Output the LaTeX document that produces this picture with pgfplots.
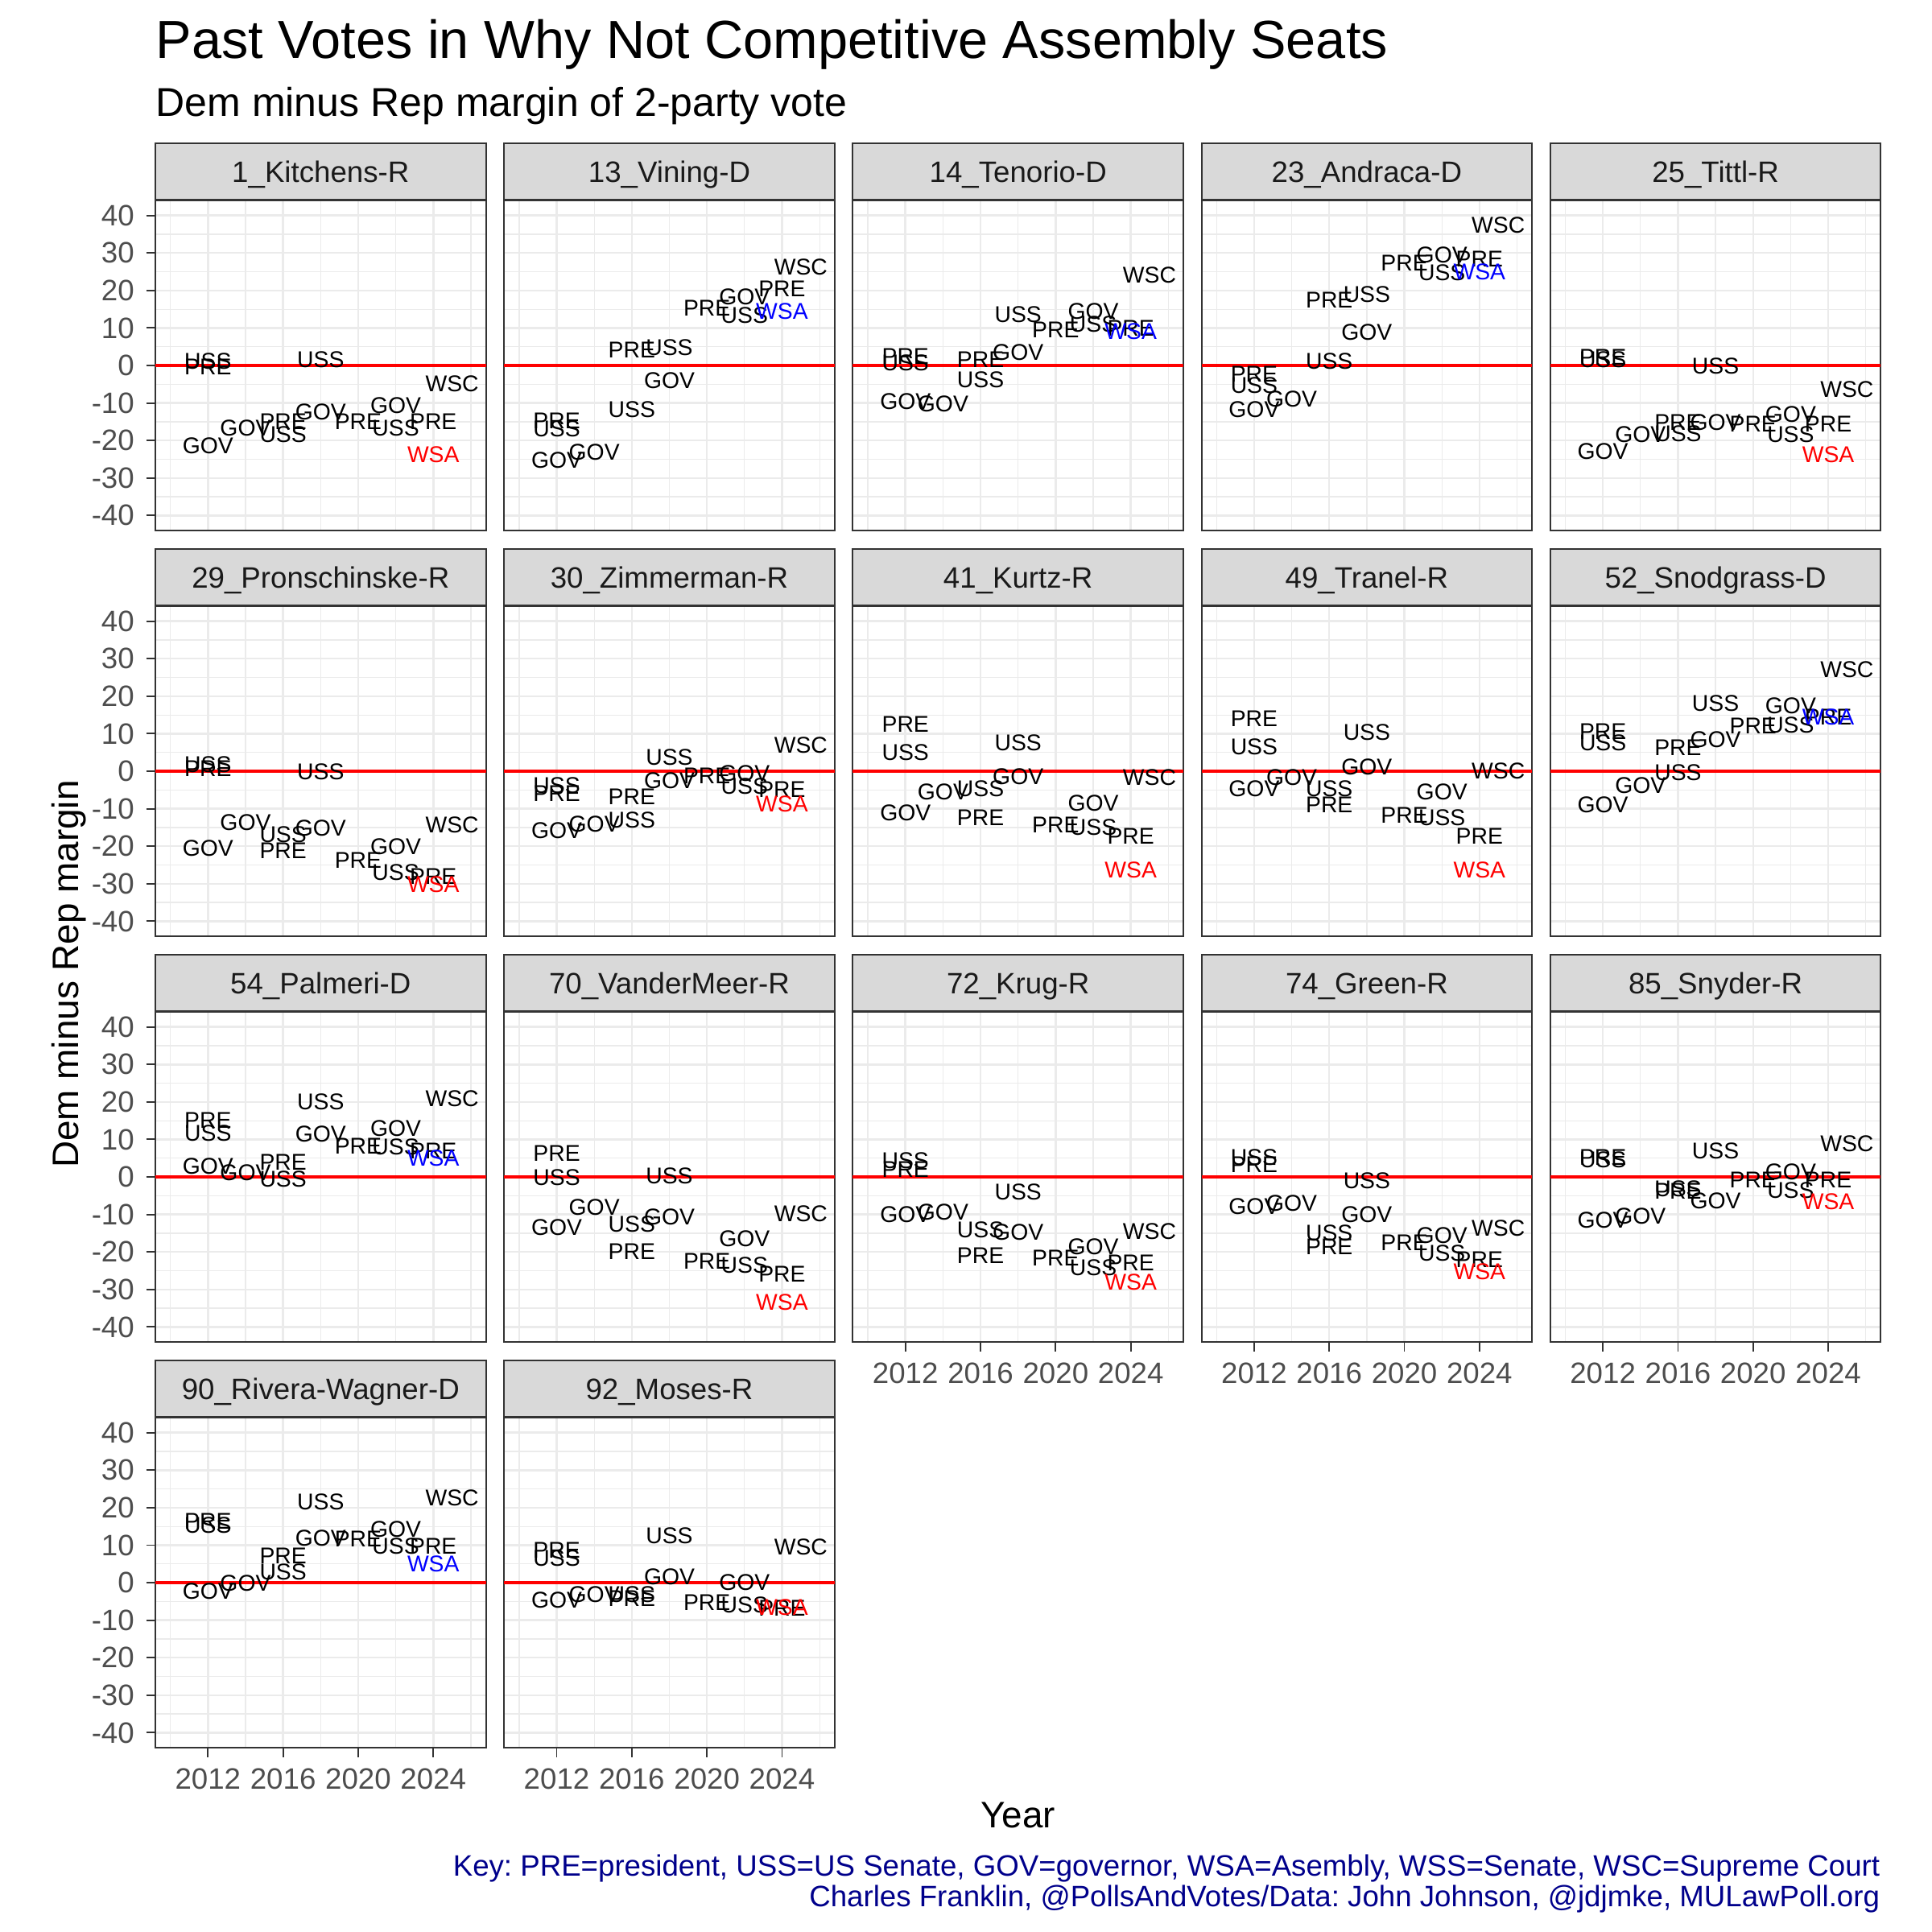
\documentclass[border=0pt]{standalone}
\usepackage{pgfplots}
\pgfplotsset{compat=1.18}
\usepackage{fontspec}
\setmainfont{Liberation Sans}
\frenchspacing

\definecolor{gridgrey}{HTML}{EBEBEB}
\definecolor{framegrey}{HTML}{333333}
\definecolor{stripgrey}{HTML}{D9D9D9}
\definecolor{ticktext}{HTML}{4D4D4D}
\definecolor{striptext}{HTML}{1A1A1A}
\definecolor{capblue}{HTML}{00008B}

% one facet = one axis; 1 px of the 2400 px image = 0.24pt
\pgfplotsset{
  panel/.style={
    width=98.54pt, height=98.4pt, scale only axis,
    anchor=south west,
    xmin=2009.2, xmax=2026.8, ymin=-44, ymax=44,
    xtick={2012,2016,2020,2024}, minor xtick={2010,2014,2018,2022,2026},
    ytick={-40,-30,...,40}, minor ytick={-35,-25,...,35},
    xticklabels={}, yticklabels={},
    grid=both,
    major grid style={draw=gridgrey, line width=0.6pt},
    minor grid style={draw=gridgrey, line width=0.3pt},
    axis line style={draw=framegrey, line width=0.45pt},
    tick align=outside, tick pos=left,
    major tick length=2.76pt, minor tick length=0pt,
    xtick style={draw=none}, ytick style={draw=none},
    tick label style={font=\fontsize{8.8}{10}\selectfont, text=ticktext},
    every axis title/.style={at={(0.5,1)}, anchor=south, inner sep=0pt,
      minimum width=98.54pt, minimum height=16.8pt,
      text height=6.3pt, text depth=0pt,
      fill=stripgrey, draw=framegrey, line width=0.45pt,
      font=\fontsize{8.8}{10}\selectfont, text=striptext},
    clip=false,
  },
  ylab/.style={yticklabels={-40,-30,-20,-10,0,10,20,30,40},
    ytick style={draw=framegrey, line width=0.45pt}},
  xlab/.style={xticklabels={2012,2016,2020,2024},
    xtick style={draw=framegrey, line width=0.45pt}},
  zero/.style={red, line width=0.8pt, mark=none},
  lbl/.style={only marks, mark=*, mark size=0pt,
    mark options={draw=none, fill=none, opacity=0},
    point meta=explicit symbolic, nodes near coords,
    nodes near coords align=center,
    nodes near coords style={anchor=center, inner sep=0pt, opacity=1,
      font=\fontsize{6.8}{8}\selectfont, text=#1}},
}

\begin{document}
\begin{tikzpicture}
\useasboundingbox (0,0) rectangle (576pt,-576pt);

% ---- row 1
\begin{axis}[panel, ylab, at={(46.32pt,-158.16pt)}, title={1\_Kitchens-R}]
\addplot[zero] coordinates {(2009.2,0) (2026.8,0)};
\addplot[lbl=black] coordinates {(2012,1.2)[USS] (2012,-0.3)[PRE] (2012,-21.3)[GOV]
 (2014,-16.7)[GOV] (2016,-14.9)[PRE] (2016,-18.5)[USS] (2018,-12.4)[GOV] (2018,1.6)[USS]
 (2020,-14.9)[PRE] (2022,-10.6)[GOV] (2022,-16.7)[USS] (2024,-14.9)[PRE] (2025,-4.9)[WSC]};
\addplot[lbl=red] coordinates {(2024,-23.8)[WSA]};
\end{axis}

\begin{axis}[panel, at={(150.29pt,-158.16pt)}, title={13\_Vining-D}]
\addplot[zero] coordinates {(2009.2,0) (2026.8,0)};
\addplot[lbl=black] coordinates {(2012,-14.7)[PRE] (2012,-16.9)[USS] (2012,-25.3)[GOV]
 (2014,-23.1)[GOV] (2016,4.1)[PRE] (2016,-11.7)[USS] (2018,4.8)[USS] (2018,-4.1)[GOV]
 (2020,15.2)[PRE] (2022,18.4)[GOV] (2022,13.4)[USS] (2024,20.5)[PRE] (2025,26.3)[WSC]};
\addplot[lbl=blue] coordinates {(2024,14.4)[WSA]};
\end{axis}

\begin{axis}[panel, at={(254.26pt,-158.16pt)}, title={14\_Tenorio-D}]
\addplot[zero] coordinates {(2009.2,0) (2026.8,0)};
\addplot[lbl=black] coordinates {(2012,2.5)[PRE] (2012,0.8)[USS] (2012,-9.7)[GOV]
 (2014,-10.2)[GOV] (2016,1.6)[PRE] (2016,-3.9)[USS] (2018,3.4)[GOV] (2018,13.5)[USS]
 (2020,9.4)[PRE] (2022,14.5)[GOV] (2022,10.9)[USS] (2024,9.9)[PRE] (2025,24.2)[WSC]};
\addplot[lbl=blue] coordinates {(2024,9.1)[WSA]};
\end{axis}

\begin{axis}[panel, at={(358.22pt,-158.16pt)}, title={23\_Andraca-D}]
\addplot[zero] coordinates {(2009.2,0) (2026.8,0)};
\addplot[lbl=black] coordinates {(2012,-2.4)[PRE] (2012,-5.4)[USS] (2012,-11.8)[GOV]
 (2014,-8.9)[GOV] (2016,1.1)[USS] (2016,17.5)[PRE] (2018,19.0)[USS] (2018,8.9)[GOV]
 (2020,27.3)[PRE] (2022,29.5)[GOV] (2022,24.7)[USS] (2024,28.4)[PRE] (2025,37.4)[WSC]};
\addplot[lbl=blue] coordinates {(2024,25.0)[WSA]};
\end{axis}

\begin{axis}[panel, at={(462.19pt,-158.16pt)}, title={25\_Tittl-R}]
\addplot[zero] coordinates {(2009.2,0) (2026.8,0)};
\addplot[lbl=black] coordinates {(2012,2.2)[PRE] (2012,1.5)[USS] (2012,-22.9)[GOV]
 (2014,-18.5)[GOV] (2016,-15.2)[PRE] (2016,-18.2)[USS] (2018,-15.2)[GOV] (2018,-0.2)[USS]
 (2020,-15.6)[PRE] (2022,-13.1)[GOV] (2022,-18.5)[USS] (2024,-15.6)[PRE] (2025,-6.3)[WSC]};
\addplot[lbl=red] coordinates {(2024,-23.8)[WSA]};
\end{axis}

% ---- row 2
\begin{axis}[panel, ylab, at={(46.32pt,-279.12pt)}, title={29\_Pronschinske-R}]
\addplot[zero] coordinates {(2009.2,0) (2026.8,0)};
\addplot[lbl=black] coordinates {(2012,1.8)[USS] (2012,0.8)[PRE] (2012,-20.5)[GOV]
 (2014,-13.7)[GOV] (2016,-16.9)[USS] (2016,-21.2)[PRE] (2018,-15.1)[GOV] (2018,-0.1)[USS]
 (2020,-23.7)[PRE] (2022,-20.1)[GOV] (2022,-26.9)[USS] (2024,-28.0)[PRE] (2025,-14.4)[WSC]};
\addplot[lbl=red] coordinates {(2024,-30.1)[WSA]};
\end{axis}

\begin{axis}[panel, at={(150.29pt,-279.12pt)}, title={30\_Zimmerman-R}]
\addplot[zero] coordinates {(2009.2,0) (2026.8,0)};
\addplot[lbl=black] coordinates {(2012,-3.9)[USS] (2012,-5.9)[PRE] (2012,-15.9)[GOV]
 (2014,-14.1)[GOV] (2016,-6.9)[PRE] (2016,-13.0)[USS] (2018,3.8)[USS] (2018,-2.6)[GOV]
 (2020,-1.2)[PRE] (2022,-0.5)[GOV] (2022,-4.1)[USS] (2024,-4.8)[PRE] (2025,6.9)[WSC]};
\addplot[lbl=red] coordinates {(2024,-8.7)[WSA]};
\end{axis}

\begin{axis}[panel, at={(254.26pt,-279.12pt)}, title={41\_Kurtz-R}]
\addplot[zero] coordinates {(2009.2,0) (2026.8,0)};
\addplot[lbl=black] coordinates {(2012,12.6)[PRE] (2012,5.1)[USS] (2012,-11.0)[GOV]
 (2014,-5.6)[GOV] (2016,-4.6)[USS] (2016,-12.4)[PRE] (2018,7.6)[USS] (2018,-1.4)[GOV]
 (2020,-14.4)[PRE] (2022,-8.5)[GOV] (2022,-14.9)[USS] (2024,-17.4)[PRE] (2025,-1.7)[WSC]};
\addplot[lbl=red] coordinates {(2024,-26.4)[WSA]};
\end{axis}

\begin{axis}[panel, at={(358.22pt,-279.12pt)}, title={49\_Tranel-R}]
\addplot[zero] coordinates {(2009.2,0) (2026.8,0)};
\addplot[lbl=black] coordinates {(2012,14.0)[PRE] (2012,6.5)[USS] (2012,-4.6)[GOV]
 (2014,-1.7)[GOV] (2016,-4.6)[USS] (2016,-8.9)[PRE] (2018,10.4)[USS] (2018,1.1)[GOV]
 (2020,-11.7)[PRE] (2022,-5.6)[GOV] (2022,-12.4)[USS] (2024,-17.4)[PRE] (2025,0.1)[WSC]};
\addplot[lbl=red] coordinates {(2024,-26.4)[WSA]};
\end{axis}

\begin{axis}[panel, at={(462.19pt,-279.12pt)}, title={52\_Snodgrass-D}]
\addplot[zero] coordinates {(2009.2,0) (2026.8,0)};
\addplot[lbl=black] coordinates {(2012,10.6)[PRE] (2012,7.6)[USS] (2012,-8.9)[GOV]
 (2014,-3.9)[GOV] (2016,6.2)[PRE] (2016,-0.3)[USS] (2018,8.5)[GOV] (2018,18.1)[USS]
 (2020,12.1)[PRE] (2022,17.4)[GOV] (2022,12.4)[USS] (2024,14.4)[PRE] (2025,27.0)[WSC]};
\addplot[lbl=blue] coordinates {(2024,14.5)[WSA]};
\end{axis}

% ---- row 3
\begin{axis}[panel, ylab, at={(46.32pt,-400.08pt)}, title={54\_Palmeri-D}]
\addplot[zero] coordinates {(2009.2,0) (2026.8,0)};
\addplot[lbl=black] coordinates {(2012,15.1)[PRE] (2012,11.6)[USS] (2012,2.9)[GOV]
 (2014,1.1)[GOV] (2016,3.9)[PRE] (2016,-0.6)[USS] (2018,20.1)[USS] (2018,11.4)[GOV]
 (2020,8.3)[PRE] (2022,12.9)[GOV] (2022,7.9)[USS] (2024,7.0)[PRE] (2025,20.9)[WSC]};
\addplot[lbl=blue] coordinates {(2024,5.1)[WSA]};
\end{axis}

\begin{axis}[panel, at={(150.29pt,-400.08pt)}, title={70\_VanderMeer-R}]
\addplot[zero] coordinates {(2009.2,0) (2026.8,0)};
\addplot[lbl=black] coordinates {(2012,6.3)[PRE] (2012,-0.1)[USS] (2012,-13.4)[GOV]
 (2014,-8.1)[GOV] (2016,-12.5)[USS] (2016,-19.9)[PRE] (2018,0.2)[USS] (2018,-10.6)[GOV]
 (2020,-22.5)[PRE] (2022,-16.4)[GOV] (2022,-23.5)[USS] (2024,-26.0)[PRE] (2025,-9.9)[WSC]};
\addplot[lbl=red] coordinates {(2024,-33.5)[WSA]};
\end{axis}

\begin{axis}[panel, xlab, at={(254.26pt,-400.08pt)}, title={72\_Krug-R}]
\addplot[zero] coordinates {(2009.2,0) (2026.8,0)};
\addplot[lbl=black] coordinates {(2012,4.4)[USS] (2012,1.9)[PRE] (2012,-10.1)[GOV]
 (2014,-9.4)[GOV] (2016,-14.2)[USS] (2016,-20.9)[PRE] (2018,-14.7)[GOV] (2018,-4.1)[USS]
 (2020,-21.6)[PRE] (2022,-18.7)[GOV] (2022,-24.2)[USS] (2024,-23.0)[PRE] (2025,-14.6)[WSC]};
\addplot[lbl=red] coordinates {(2024,-28.1)[WSA]};
\end{axis}

\begin{axis}[panel, xlab, at={(358.22pt,-400.08pt)}, title={74\_Green-R}]
\addplot[zero] coordinates {(2009.2,0) (2026.8,0)};
\addplot[lbl=black] coordinates {(2012,5.2)[USS] (2012,3.3)[PRE] (2012,-7.9)[GOV]
 (2014,-7.1)[GOV] (2016,-15.0)[USS] (2016,-18.7)[PRE] (2018,-1.1)[USS] (2018,-10.1)[GOV]
 (2020,-17.6)[PRE] (2022,-15.6)[GOV] (2022,-20.4)[USS] (2024,-22.0)[PRE] (2025,-13.7)[WSC]};
\addplot[lbl=red] coordinates {(2024,-25.2)[WSA]};
\end{axis}

\begin{axis}[panel, xlab, at={(462.19pt,-400.08pt)}, title={85\_Snyder-R}]
\addplot[zero] coordinates {(2009.2,0) (2026.8,0)};
\addplot[lbl=black] coordinates {(2012,5.3)[PRE] (2012,4.6)[USS] (2012,-11.5)[GOV]
 (2014,-10.4)[GOV] (2016,-3.1)[USS] (2016,-3.8)[PRE] (2018,-6.4)[GOV] (2018,7.0)[USS]
 (2020,-0.7)[PRE] (2022,1.3)[GOV] (2022,-3.6)[USS] (2024,-0.8)[PRE] (2025,8.8)[WSC]};
\addplot[lbl=red] coordinates {(2024,-6.7)[WSA]};
\end{axis}

% ---- row 4
\begin{axis}[panel, ylab, xlab, at={(46.32pt,-521.04pt)}, title={90\_Rivera-Wagner-D}]
\addplot[zero] coordinates {(2009.2,0) (2026.8,0)};
\addplot[lbl=black] coordinates {(2012,16.4)[PRE] (2012,15.3)[USS] (2012,-2.4)[GOV]
 (2014,-0.1)[GOV] (2016,7.2)[PRE] (2016,2.8)[USS] (2018,21.6)[USS] (2018,11.8)[GOV]
 (2020,11.6)[PRE] (2022,14.2)[GOV] (2022,9.8)[USS] (2024,9.8)[PRE] (2025,22.7)[WSC]};
\addplot[lbl=blue] coordinates {(2024,5.0)[WSA]};
\end{axis}

\begin{axis}[panel, xlab, at={(150.29pt,-521.04pt)}, title={92\_Moses-R}]
\addplot[zero] coordinates {(2009.2,0) (2026.8,0)};
\addplot[lbl=black] coordinates {(2012,8.7)[PRE] (2012,6.6)[USS] (2012,-4.6)[GOV]
 (2014,-3.1)[GOV] (2016,-3.1)[USS] (2016,-4.2)[PRE] (2018,12.5)[USS] (2018,1.6)[GOV]
 (2020,-5.2)[PRE] (2022,0.1)[GOV] (2022,-6.0)[USS] (2024,-6.9)[PRE] (2025,9.5)[WSC]};
\addplot[lbl=red] coordinates {(2024,-6.7)[WSA]};
\end{axis}

% ---- titles, axis titles, caption
\node[anchor=base west, inner sep=0pt, font=\fontsize{16}{19}\selectfont]
  at (46.32pt,-17.28pt) {Past Votes in Why Not Competitive Assembly Seats};
\node[anchor=base west, inner sep=0pt, font=\fontsize{12}{14}\selectfont]
  at (46.32pt,-34.56pt) {Dem minus Rep margin of 2-party vote};
\node[anchor=base, rotate=90, inner sep=0pt, font=\fontsize{11}{13}\selectfont]
  at (23.4pt,-290.4pt) {Dem minus Rep margin};
\node[anchor=base, inner sep=0pt, font=\fontsize{11}{13}\selectfont]
  at (303.48pt,-544.8pt) {Year};
\node[anchor=base east, inner sep=0pt, font=\fontsize{8.8}{10}\selectfont, text=capblue]
  at (560.64pt,-559.2pt) {Key: PRE=president, USS=US Senate, GOV=governor, WSA=Asembly, WSS=Senate, WSC=Supreme Court};
\node[anchor=base east, inner sep=0pt, font=\fontsize{8.8}{10}\selectfont, text=capblue]
  at (560.64pt,-568.32pt) {Charles Franklin, @PollsAndVotes/Data: John Johnson, @jdjmke, MULawPoll.org};
\end{tikzpicture}
\end{document}
